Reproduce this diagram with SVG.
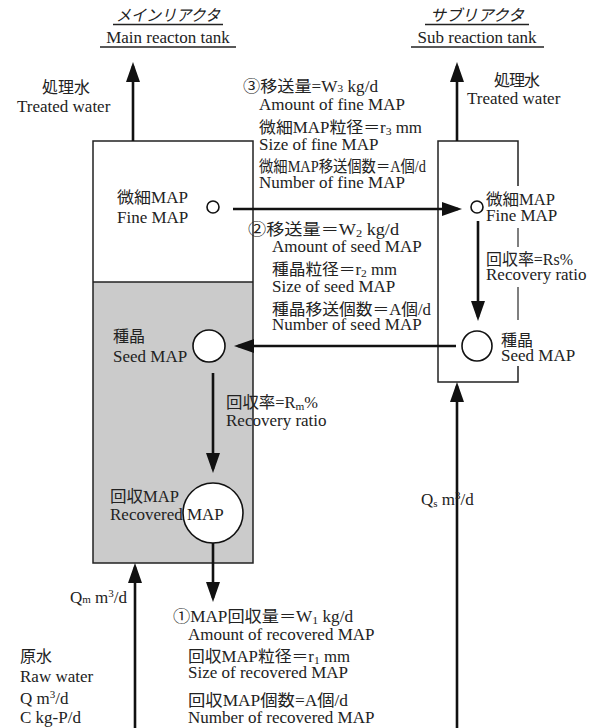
<svg xmlns="http://www.w3.org/2000/svg" width="591" height="728" viewBox="0 0 591 728">
<style>
text{font-family:"Liberation Serif","Noto Sans CJK JP",serif;font-size:17px;fill:#222}
.j{font-size:16px}
.sub{font-size:11px}
.ti{font-style:italic;font-size:16px}
.ul{stroke:#222;stroke-width:1.3}
.box{fill:none;stroke:#222;stroke-width:1.5}
.flow{fill:none;stroke:#111;stroke-width:2.6}
.circ{fill:#fff;stroke:#111;stroke-width:1.6}
.side{stroke:#555;stroke-width:1.5}
</style>
<defs>
<marker id="ah" viewBox="0 0 20 14" refX="16" refY="7" markerWidth="20" markerHeight="14" orient="auto" markerUnits="userSpaceOnUse">
<path d="M0,0 L20,7 L0,14 z" fill="#111"/>
</marker>
</defs>

<g id="titles">
<text class="ti" x="116" y="21" textLength="104" lengthAdjust="spacingAndGlyphs">メインリアクタ</text>
<line class="ul" x1="113" y1="24.5" x2="223" y2="24.5"/>
<text x="168" y="43" text-anchor="middle">Main reacton tank</text>
<line class="ul" x1="100" y1="47" x2="236" y2="47"/>
<text class="ti" x="430" y="21" textLength="94" lengthAdjust="spacingAndGlyphs">サブリアクタ</text>
<line class="ul" x1="425" y1="24.5" x2="529" y2="24.5"/>
<text x="477" y="43" text-anchor="middle">Sub reaction tank</text>
<line class="ul" x1="411" y1="47" x2="544" y2="47"/>
</g>

<g id="main-tank">
<rect x="93" y="141" width="160" height="141" fill="#fff"/>
<rect x="93" y="282" width="160" height="281" fill="#cbcbcb"/>
<rect class="box" x="93" y="141" width="160" height="422"/>
<line class="box" x1="93" y1="282" x2="253" y2="282"/>
</g>

<g id="sub-tank">
<path class="box" d="M518,186 V141 H438 V382 H518 V366"/>
<line class="side" x1="518" y1="228" x2="518" y2="247"/>
<line class="side" x1="518" y1="287" x2="518" y2="320"/>
</g>

<g id="connectors">
<line class="flow" x1="133" y1="141" x2="133" y2="66" marker-end="url(#ah)"/>
<line class="flow" x1="457" y1="141" x2="457" y2="66" marker-end="url(#ah)"/>
<line class="flow" x1="233" y1="209" x2="458" y2="209" marker-end="url(#ah)"/>
<line class="flow" x1="478" y1="221" x2="478" y2="317" marker-end="url(#ah)"/>
<line class="flow" x1="456" y1="346" x2="238" y2="346" marker-end="url(#ah)"/>
<line class="flow" x1="213" y1="373" x2="213" y2="469" marker-end="url(#ah)"/>
<line class="flow" x1="213" y1="543" x2="213" y2="598" marker-end="url(#ah)"/>
<line class="flow" x1="135" y1="728" x2="135" y2="567" marker-end="url(#ah)"/>
<line class="flow" x1="457" y1="728" x2="457" y2="386" marker-end="url(#ah)"/>
</g>

<g id="fine-main">
<circle class="circ" cx="213" cy="207" r="6"/>
<text class="j" x="117" y="203" textLength="71" lengthAdjust="spacingAndGlyphs">微細MAP</text>
<text x="117" y="223">Fine MAP</text>
</g>
<g id="seed-main">
<circle class="circ" cx="209" cy="346" r="16"/>
<text class="j" x="113" y="342" textLength="32">種晶</text>
<text x="113" y="362">Seed MAP</text>
</g>
<g id="recovered-main">
<circle class="circ" cx="213" cy="513" r="30"/>
<text class="j" x="110" y="502" textLength="69" lengthAdjust="spacingAndGlyphs">回収MAP</text>
<text x="110" y="520">Recovered MAP</text>
</g>
<g id="fine-sub">
<circle class="circ" cx="477" cy="207" r="6"/>
<text class="j" x="486" y="205" textLength="69" lengthAdjust="spacingAndGlyphs">微細MAP</text>
<text x="486" y="221">Fine MAP</text>
</g>
<g id="seed-sub">
<circle class="circ" cx="477" cy="346" r="15"/>
<text class="j" x="501" y="346" textLength="32">種晶</text>
<text x="501" y="361">Seed MAP</text>
</g>

<g id="labels">
<text class="j" x="42" y="93" textLength="48">処理水</text>
<text x="17" y="112">Treated water</text>
<text class="j" x="494" y="86" textLength="46">処理水</text>
<text x="467" y="104">Treated water</text>

<text class="j" x="243" y="92" textLength="135" lengthAdjust="spacingAndGlyphs">③移送量=W<tspan class="sub">3</tspan> kg/d</text>
<text x="259" y="110">Amount of fine MAP</text>
<text class="j" x="259" y="133" textLength="163" lengthAdjust="spacingAndGlyphs">微細MAP粒径＝r<tspan class="sub" dy="2">3</tspan><tspan dy="-2"> mm</tspan></text>
<text x="259" y="150">Size of fine MAP</text>
<text class="j" x="259" y="172" textLength="167" lengthAdjust="spacingAndGlyphs">微細MAP移送個数＝A個/d</text>
<text x="259" y="188">Number of fine MAP</text>

<text class="j" x="248" y="235" textLength="151" lengthAdjust="spacingAndGlyphs">②移送量＝W<tspan class="sub" dy="2">2</tspan><tspan dy="-2"> kg/d</tspan></text>
<text x="272" y="252">Amount of seed MAP</text>
<text class="j" x="272" y="275" textLength="125" lengthAdjust="spacingAndGlyphs">種晶粒径＝r<tspan class="sub" dy="2">2</tspan><tspan dy="-2"> mm</tspan></text>
<text x="272" y="292">Size of seed MAP</text>
<text class="j" x="272" y="315" textLength="159" lengthAdjust="spacingAndGlyphs">種晶移送個数＝A個/d</text>
<text x="272" y="330">Number of seed MAP</text>

<text class="j" x="486" y="265" textLength="87" lengthAdjust="spacingAndGlyphs">回収率=Rs%</text>
<text x="486" y="280">Recovery ratio</text>

<text class="j" x="226" y="408" textLength="92" lengthAdjust="spacingAndGlyphs">回収率=R<tspan class="sub" dy="2">m</tspan><tspan dy="-2">%</tspan></text>
<text x="226" y="426">Recovery ratio</text>

<text x="421" y="505">Q<tspan class="sub" dy="2">s</tspan><tspan dy="-2"> m</tspan><tspan class="sub" dy="-6">3</tspan><tspan dy="6">/d</tspan></text>
<text x="70" y="603">Q<tspan class="sub">m</tspan> m<tspan class="sub" dy="-6">3</tspan><tspan dy="6">/d</tspan></text>

<text class="j" x="173" y="622" textLength="180" lengthAdjust="spacingAndGlyphs">①MAP回収量＝W<tspan class="sub" dy="2">1</tspan><tspan dy="-2"> kg/d</tspan></text>
<text x="188" y="640">Amount of recovered MAP</text>
<text class="j" x="188" y="662" textLength="162" lengthAdjust="spacingAndGlyphs">回収MAP粒径＝r<tspan class="sub" dy="2">1</tspan><tspan dy="-2"> mm</tspan></text>
<text x="188" y="678">Size of recovered MAP</text>
<text class="j" x="188" y="706" textLength="160" lengthAdjust="spacingAndGlyphs">回収MAP個数=A個/d</text>
<text x="188" y="723">Number of recovered MAP</text>

<text class="j" x="20" y="662" textLength="32">原水</text>
<text x="20" y="682">Raw water</text>
<text x="20" y="704">Q m<tspan class="sub" dy="-6">3</tspan><tspan dy="6">/d</tspan></text>
<text x="20" y="723">C kg-P/d</text>
</g>
</svg>
